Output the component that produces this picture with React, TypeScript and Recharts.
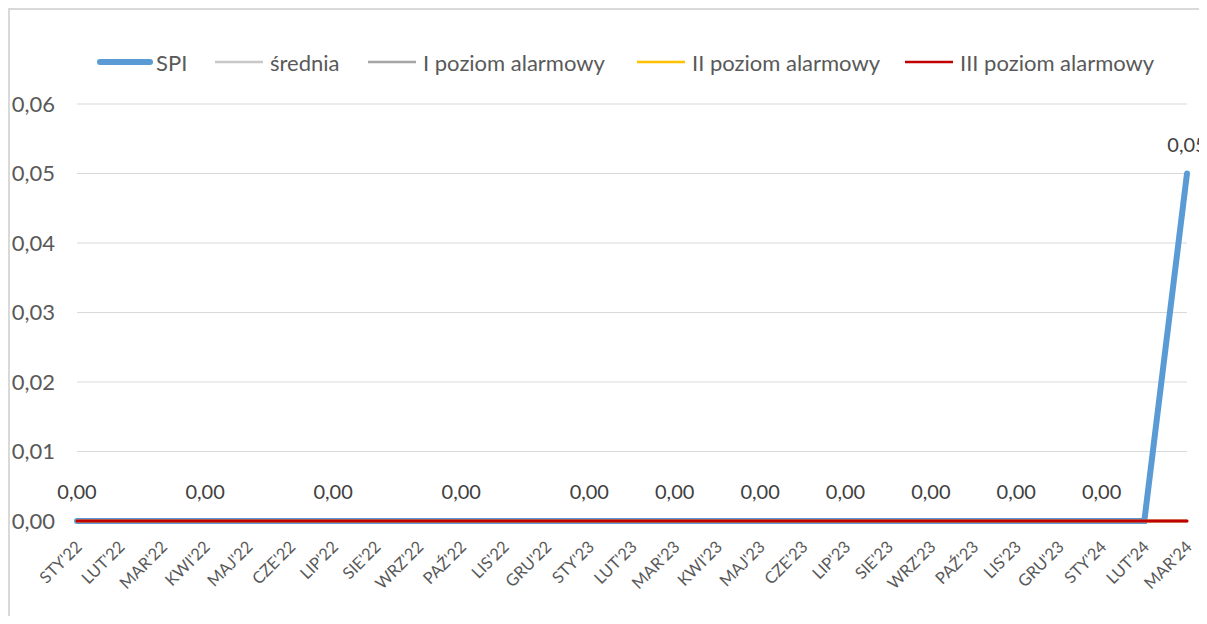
import React from 'react';
import { LineChart, Line, XAxis, YAxis, CartesianGrid, Legend } from 'recharts';

const FONT = 'Lato, "Open Sans", "DejaVu Sans", sans-serif';

const categories = [
  "STY'22", "LUT'22", "MAR'22", "KWI'22", "MAJ'22", "CZE'22", "LIP'22", "SIE'22", "WRZ'22",
  "PAŹ'22", "LIS'22", "GRU'22", "STY'23", "LUT'23", "MAR'23", "KWI'23", "MAJ'23", "CZE'23",
  "LIP'23", "SIE'23", "WRZ'23", "PAŹ'23", "LIS'23", "GRU'23", "STY'24", "LUT'24", "MAR'24",
];
const spi = [0, 0, 0, 0, 0, 0, 0, 0, 0, 0, 0, 0, 0, 0, 0, 0, 0, 0, 0, 0, 0, 0, 0, 0, 0, 0, 0.05];
const srednia = [0, 0, 0, 0, 0, 0, 0, 0, 0, 0, 0, 0, 0, 0, 0, 0, 0, 0, 0, 0, 0, 0, 0, 0, 0, 0, 0];
const poziom1 = [0, 0, 0, 0, 0, 0, 0, 0, 0, 0, 0, 0, 0, 0, 0, 0, 0, 0, 0, 0, 0, 0, 0, 0, 0, 0, 0];
const poziom2 = [0, 0, 0, 0, 0, 0, 0, 0, 0, 0, 0, 0, 0, 0, 0, 0, 0, 0, 0, 0, 0, 0, 0, 0, 0, 0, 0];
const poziom3 = [0, 0, 0, 0, 0, 0, 0, 0, 0, 0, 0, 0, 0, 0, 0, 0, 0, 0, 0, 0, 0, 0, 0, 0, 0, 0, 0];
const labeledIndices = [0, 3, 6, 9, 12, 14, 16, 18, 20, 22, 24, 26];
const yTicks = [0, 0.01, 0.02, 0.03, 0.04, 0.05, 0.06];

const seriesInfo = [
  { key: 'spi', name: 'SPI', color: '#5B9BD5', width: 6 },
  { key: 'srednia', name: 'średnia', color: '#C8C8C8', width: 2.5 },
  { key: 'p1', name: 'I poziom alarmowy', color: '#A5A5A5', width: 2.5 },
  { key: 'p2', name: 'II poziom alarmowy', color: '#FFC000', width: 2.5 },
  { key: 'p3', name: 'III poziom alarmowy', color: '#C00000', width: 3 },
];
// legend item left edges (chart coordinates)
const legendX = [87, 201, 354, 623, 891];

const data = categories.map((c, i) => ({
  cat: c,
  spi: spi[i],
  srednia: srednia[i],
  p1: poziom1[i],
  p2: poziom2[i],
  p3: poziom3[i],
}));

const fmt = (v: number) => v.toFixed(2).replace('.', ',');

const XTick = (props: any) => {
  const { x, y, payload } = props;
  return (
    <g transform={`translate(${x + 6},${y + 19})`}>
      <text textAnchor="end" transform="rotate(-45)" fill="#595959" fontSize={16.5} fontFamily={FONT}>
        {payload.value}
      </text>
    </g>
  );
};

const SpiLabel = (props: any) => {
  const { x, y, value, index } = props;
  if (!labeledIndices.includes(index)) return null;
  return (
    <text x={x} y={y - 30} textAnchor="middle" dominantBaseline="central" fill="#404040" fontSize={20} fontFamily={FONT}>
      {fmt(value)}
    </text>
  );
};

const renderLegend = () => (
  <div style={{ position: 'relative', width: 1150, height: 30, fontFamily: FONT, fontSize: 22, color: '#595959' }}>
    {seriesInfo.map((s, i) => (
      <div
        key={s.key}
        style={{ position: 'absolute', left: legendX[i], top: 0, height: 30, display: 'flex', alignItems: 'center', whiteSpace: 'nowrap' }}
      >
        <svg width={56} height={10} style={{ marginRight: 3 }}>
          <line
            x1={s.key === 'spi' ? 3 : 4}
            y1={5}
            x2={s.key === 'spi' ? 53 : 52}
            y2={5}
            stroke={s.color}
            strokeWidth={s.key === 'spi' ? 6 : 2.5}
            strokeLinecap={s.key === 'spi' ? 'round' : 'butt'}
          />
        </svg>
        <span>{s.name}</span>
      </div>
    ))}
  </div>
);

export default function App() {
  return (
    <>
      <style>{'html,body{overflow:hidden;} .recharts-surface{overflow:visible;}'}</style>
      <div
        style={{
          width: 1191,
          height: 608,
          boxSizing: 'border-box',
          borderTop: '2px solid #d9d9d9',
          borderLeft: '2px solid #d9d9d9',
          position: 'relative',
          overflow: 'visible',
        }}
      >
        <div style={{ position: 'absolute', left: 1189, top: -2, width: 10, height: 2, background: '#d9d9d9' }} />
        <LineChart
          width={1189}
          height={606}
          data={data}
          margin={{ top: 64, right: 12, bottom: 0, left: 0 }}
        >
          <CartesianGrid vertical={false} stroke="#d9d9d9" strokeWidth={1} />
          <XAxis
            dataKey="cat"
            interval={0}
            padding={{ left: 0, right: 0 }}
            axisLine={false}
            tickLine={false}
            tick={<XTick />}
            height={95}
          />
          <YAxis
            domain={[0, 0.06]}
            ticks={yTicks}
            width={67}
            axisLine={false}
            tickLine={false}
            tickMargin={16}
            tick={{ fill: '#595959', fontSize: 22, fontFamily: FONT }}
            tickFormatter={fmt}
          />
          <Legend verticalAlign="top" content={renderLegend} wrapperStyle={{ top: 37, left: 0, height: 30 }} />
          {seriesInfo.map((s) => (
            <Line
              key={s.key}
              type="linear"
              dataKey={s.key}
              name={s.name}
              stroke={s.color}
              strokeWidth={s.width}
              strokeLinecap="round"
              dot={false}
              activeDot={false}
              isAnimationActive={false}
              label={s.key === 'spi' ? <SpiLabel /> : undefined}
            />
          ))}
        </LineChart>
      </div>
    </>
  );
}
